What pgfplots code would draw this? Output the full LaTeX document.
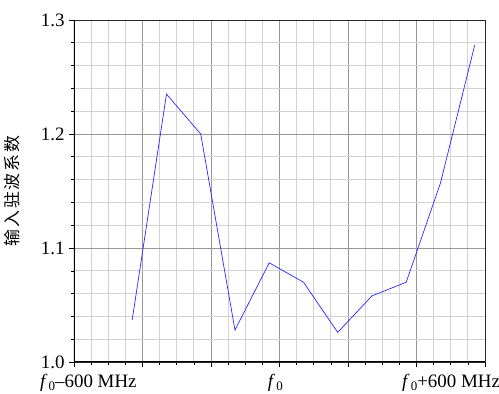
\documentclass[border=0pt]{standalone}
\usepackage{fontspec}
\setmainfont{Liberation Serif}
\newfontfamily\cjk{Noto Sans CJK SC}
\usepackage{pgfplots}
\pgfplotsset{compat=1.18}
\definecolor{majgrid}{RGB}{150,150,150}
\definecolor{mingrid}{RGB}{210,210,210}
\definecolor{lineblue}{RGB}{40,40,255}
\newcommand{\fz}{\textit{f}\kern0.06em\raisebox{-0.3ex}{\fontsize{13}{14}\selectfont 0}}
\begin{document}
\begin{tikzpicture}
\begin{axis}[
  scale only axis,
  width=411bp, height=342bp,
  xmin=-600, xmax=600,
  ymin=1.0, ymax=1.3,
  xtick={-600,-400,-200,0,200,400,600},
  xticklabels={},
  minor x tick num=3,
  ytick={1.0,1.1,1.2,1.3},
  minor y tick num=4,
  yticklabel style={/pgf/number format/fixed,/pgf/number format/fixed zerofill,/pgf/number format/precision=1},
  /pgf/number format/assume math mode=true,
  tick label style={font=\fontsize{19}{22}\selectfont},
  tick pos=left,
  tick align=outside,
  major tick length=5bp,
  minor tick length=2.5bp,
  tick style={black, line width=0.6pt},
  grid=both,
  major grid style={majgrid, line width=0.8pt},
  minor grid style={mingrid, line width=1.1pt},
  axis line style={black!85, line width=0.8pt},
  extra x ticks={-558,-12,501},
  extra x tick labels={{\fz–600 MHz},{\fz},{\fz+600 MHz}},
  extra x tick style={major tick length=0pt, grid=none},
  xticklabel style={yshift=-9bp},
  yticklabel style={xshift=-1bp},
  ylabel={\cjk\fontsize{17}{19}\selectfont 输\hspace{0.1em}入\hspace{0.1em}驻\hspace{0.1em}波\hspace{0.1em}系\hspace{0.1em}数},
  ylabel style={yshift=14bp},
]
\addplot[lineblue, line width=0.7pt] coordinates {
  (-430,1.037) (-330,1.235) (-230,1.200) (-130,1.028) (-30,1.087)
  (70,1.070) (170,1.026) (270,1.058) (370,1.070) (470,1.157) (570,1.278)
};
\draw[black, line width=1.8pt] (rel axis cs:0,1) -- (rel axis cs:0,0) -- (rel axis cs:1,0);
\coordinate (ll) at (rel axis cs:0,0);
\coordinate (ur) at (rel axis cs:1,1);
\end{axis}
\pgfresetboundingbox
\path ([xshift=-74bp,yshift=-32bp]ll) rectangle ([xshift=14bp,yshift=20bp]ur);
\end{tikzpicture}
\end{document}
